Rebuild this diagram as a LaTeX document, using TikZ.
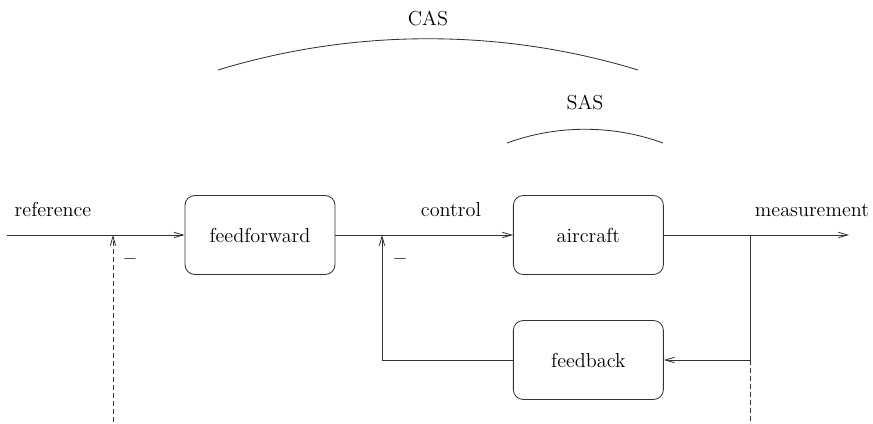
\documentclass[tikz,border=0pt]{standalone}
\usetikzlibrary{positioning,arrows.meta}

\begin{document}
\begin{tikzpicture}[
  font=\fontsize{14.4}{17}\selectfont,
  line width=0.6pt,
  wire/.style={draw=black!80},
  block/.style={draw=black!80,rounded corners=7pt,minimum width=3.75cm,minimum height=1.975cm},
  lab/.style={anchor=base},
  dsh/.style={dash pattern=on 3.5pt off 2.2pt},
  >={Straight Barb[length=6.5pt,width=3.8pt]}]
\useasboundingbox (0,0) rectangle (21.825,-10.6);
% blocks
\node[block] (ff) at (6.5,-5.875) {feedforward};
\node[block] (ac) at (14.71,-5.875) {aircraft};
\node[block] (fb) at (14.71,-9.0) {feedback};
% signal points
\coordinate (ref) at (0.175,-5.875);
\coordinate (refin) at (2.825,-10.55);
\coordinate (cj) at (9.55,-5.875);
\coordinate (mj) at (18.75,-5.875);
\coordinate (mout) at (21.225,-5.875);
\coordinate (mfb) at (18.75,-9.0);
\coordinate (mdash) at (18.75,-10.55);
% labels
\node[lab] (lref) at (1.325,-5.4) {reference};
\node[lab] (lctl) at (11.275,-5.4) {control};
\node[lab] (lmeas) at (20.3,-5.4) {measurement};
\node (m1) at (3.25,-6.55) {\textbf{--}};
\node (m2) at (10.0,-6.55) {\textbf{--}};
% signals
\draw[wire,->] (ref) -- (ff);
\draw[wire,->,dsh] (refin) -- (refin |- ref);
\draw[wire,->] (ff) -- (ac);
\draw[wire,->] (ac) -- (mout);
\draw[wire,->] (mj) -- (mfb) -- (fb);
\draw[wire,->] (fb) -| (cj);
\draw[wire,dsh] (mfb) -- (mdash);
% loops
\coordinate (cas1) at (5.45,-1.75);
\coordinate (cas2) at (15.95,-1.75);
\coordinate (sas1) at (12.675,-3.575);
\coordinate (sas2) at (16.575,-3.575);
\draw[wire] (cas1) to[bend left=17,looseness=0.87] (cas2);
\draw[wire] (sas1) to[bend left=20,looseness=0.88] (sas2);
\node (cas) at (10.7,-0.45) {CAS};
\node (sas) at (14.625,-2.55) {SAS};
\end{tikzpicture}
\end{document}
